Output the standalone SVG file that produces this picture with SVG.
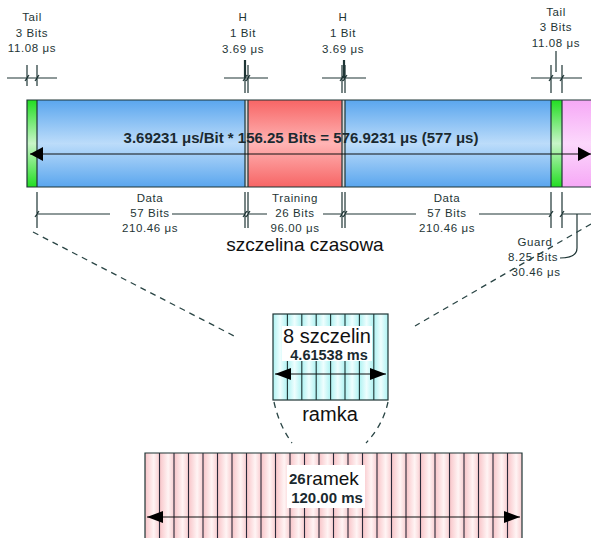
<svg xmlns="http://www.w3.org/2000/svg" width="591" height="538" viewBox="0 0 591 538">
<style>
.t{font-family:"Liberation Sans",Arial,sans-serif;font-size:11.5px;fill:#1e3535;text-anchor:middle;letter-spacing:0.6px}
.big{font-family:"Liberation Sans",Arial,sans-serif;fill:#111;text-anchor:middle}
.b{font-family:"Liberation Sans",Arial,sans-serif;font-weight:bold;fill:#1a2a30;text-anchor:middle}
.ln{stroke:#1e3535;stroke-width:1.2;fill:none}
.dash{stroke:#2a4545;stroke-width:1.3;stroke-dasharray:6,5;fill:none}
.col{stroke:#1e3535;stroke-width:1.1}
</style>
<defs>
<linearGradient id="gBlue" x1="0" y1="0" x2="0" y2="1">
<stop offset="0" stop-color="#5aa6ee"/><stop offset="0.5" stop-color="#bcdcfa"/><stop offset="1" stop-color="#5aa6ee"/>
</linearGradient>
<linearGradient id="gRed" x1="0" y1="0" x2="0" y2="1">
<stop offset="0" stop-color="#f76565"/><stop offset="0.5" stop-color="#ffb4b4"/><stop offset="1" stop-color="#f76565"/>
</linearGradient>
<linearGradient id="gGreen" x1="0" y1="0" x2="0" y2="1">
<stop offset="0" stop-color="#22dd22"/><stop offset="0.5" stop-color="#c8f5c8"/><stop offset="1" stop-color="#22dd22"/>
</linearGradient>
<linearGradient id="gPink" x1="0" y1="0" x2="0" y2="1">
<stop offset="0" stop-color="#f6a8f6"/><stop offset="0.5" stop-color="#fcd8fc"/><stop offset="1" stop-color="#f6a8f6"/>
</linearGradient>
<linearGradient id="gCyan" x1="0" y1="0" x2="1" y2="0">
<stop offset="0" stop-color="#aef2f2"/><stop offset="0.5" stop-color="#eefefe"/><stop offset="1" stop-color="#aef2f2"/>
</linearGradient>
<linearGradient id="gRose" x1="0" y1="0" x2="1" y2="0">
<stop offset="0" stop-color="#f8c4c8"/><stop offset="0.6" stop-color="#fff4f4"/><stop offset="1" stop-color="#f8cdd0"/>
</linearGradient>
</defs>

<g id="slot-bar">
<rect x="27" y="100" width="10" height="87" fill="url(#gGreen)"/>
<rect x="37" y="100" width="208" height="87" fill="url(#gBlue)"/>
<rect x="245" y="100" width="3" height="87" fill="#d8d8d8"/>
<rect x="248" y="100" width="94" height="87" fill="url(#gRed)"/>
<rect x="342" y="100" width="3" height="87" fill="#d8d8d8"/>
<rect x="345" y="100" width="206" height="87" fill="url(#gBlue)"/>
<rect x="551" y="100" width="11" height="87" fill="url(#gGreen)"/>
<rect x="562" y="100" width="30" height="87" fill="url(#gPink)"/>
<path d="M592,100 H27 V187 H592" class="ln" stroke-width="1.6"/>
<path d="M37,100 V187 M245,100 V187 M248,100 V187 M342,100 V187 M345,100 V187 M551,100 V187 M562,100 V187" class="ln"/>
<line x1="30" y1="154" x2="591" y2="154" stroke="#111" stroke-width="1.2"/>
<path d="M30,154 L43,147 L43,161 z M591,154 L578,147 L578,161 z" fill="#000"/>
<text x="301" y="143" class="b" font-size="15">3.69231 μs/Bit * 156.25 Bits = 576.9231  μs (577 μs)</text>
</g>

<g id="dim-tail-left">
<text class="t" x="32" y="21">Tail</text>
<text class="t" x="32" y="37">3 Bits</text>
<text class="t" x="32" y="52">11.08 μs</text>
<path d="M27,65 V86 M37,65 V86 M7,78 H57 M25,81 L29,75 M35,81 L39,75" class="ln"/>
</g>
<g id="dim-h1">
<text class="t" x="243" y="21">H</text>
<text class="t" x="243" y="37">1 Bit</text>
<text class="t" x="243" y="53">3.69 μs</text>
<path d="M245,65 V93 M248,65 V93 M224,78 H268 M243,81 L247,75 M246,81 L250,75" class="ln"/>
<line x1="245" y1="60" x2="245" y2="78" stroke="#1e3535" stroke-width="2.2"/>
</g>
<g id="dim-h2">
<text class="t" x="343" y="21">H</text>
<text class="t" x="343" y="37">1 Bit</text>
<text class="t" x="343" y="53">3.69 μs</text>
<path d="M342,65 V93 M345,65 V93 M322,78 H366 M340,81 L344,75 M343,81 L347,75" class="ln"/>
<line x1="344" y1="60" x2="344" y2="78" stroke="#1e3535" stroke-width="2.2"/>
</g>
<g id="dim-tail-right">
<text class="t" x="556" y="16">Tail</text>
<text class="t" x="556" y="31">3 Bits</text>
<text class="t" x="556" y="47">11.08 μs</text>
<path d="M551,65 V93 M562,65 V93 M531,78 H582 M556,51 V72 M549,81 L553,75 M560,81 L564,75" class="ln"/>
</g>

<g id="dim-data1">
<text class="t" x="150" y="202">Data</text>
<text class="t" x="150" y="217">57 Bits</text>
<text class="t" x="150" y="232">210.46 μs</text>
<path d="M37,192 V228 M245,192 V228 M248,192 V228 M37,214 H110 M172,214 H245 M35,217 L39,211 M243,217 L247,211 M246,217 L250,211" class="ln"/>
</g>
<g id="dim-training">
<text class="t" x="295" y="202">Training</text>
<text class="t" x="295" y="217">26 Bits</text>
<text class="t" x="295" y="232">96.00 μs</text>
<path d="M248,214 H267 M323,214 H342 M342,192 V228 M345,192 V228 M340,217 L344,211 M343,217 L347,211" class="ln"/>
</g>
<g id="dim-data2">
<text class="t" x="447" y="202">Data</text>
<text class="t" x="447" y="217">57 Bits</text>
<text class="t" x="447" y="232">210.46 μs</text>
<path d="M345,214 H416 M479,214 H551 M551,192 V228 M562,192 V228 M549,217 L553,211 M560,217 L564,211" class="ln"/>
</g>
<g id="dim-guard">
<text class="t" x="535" y="246">Guard</text>
<text class="t" x="533" y="261">8.25 Bits</text>
<text class="t" x="536" y="276">30.46 μs</text>
<path d="M562,214 H591 M577,214 V248 Q577,258 560,258" class="ln"/>
</g>

<g id="label-slot">
<text class="big" x="305" y="251" font-size="19">szczelina czasowa</text>
</g>

<g id="connectors">
<line x1="33" y1="232" x2="238" y2="338" class="dash"/>
<line x1="591" y1="224" x2="415" y2="326" class="dash"/>
<path d="M274,402 Q279,425 292,443" class="dash"/>
<path d="M388,402 Q383,425 366,443" class="dash"/>
</g>

<g id="frame">
<rect x="273" y="314" width="14.4" height="86" fill="url(#gCyan)"/>
<rect x="287.4" y="314" width="14.4" height="86" fill="url(#gCyan)"/>
<rect x="301.8" y="314" width="14.4" height="86" fill="url(#gCyan)"/>
<rect x="316.2" y="314" width="14.4" height="86" fill="url(#gCyan)"/>
<rect x="330.6" y="314" width="14.4" height="86" fill="url(#gCyan)"/>
<rect x="345" y="314" width="14.4" height="86" fill="url(#gCyan)"/>
<rect x="359.4" y="314" width="14.4" height="86" fill="url(#gCyan)"/>
<rect x="373.8" y="314" width="14.2" height="86" fill="url(#gCyan)"/>
<path d="M287.4,314 V400 M301.8,314 V400 M316.2,314 V400 M330.6,314 V400 M345,314 V400 M359.4,314 V400 M373.8,314 V400" class="col"/>
<rect x="273" y="314" width="115" height="86" class="ln" stroke-width="1.4"/>
<rect x="282" y="326" width="90" height="35" fill="#fff"/>
<text class="big" x="327" y="343" font-size="20">8 szczelin</text>
<text class="b" x="329" y="360" font-size="14.5">4.61538 ms</text>
<line x1="275" y1="374" x2="386" y2="374" stroke="#111" stroke-width="1.2"/>
<path d="M275,374 L291,368 L291,380 z M386,374 L370,368 L370,380 z" fill="#000"/>
<text class="big" x="330" y="421" font-size="20">ramka</text>
</g>

<g id="multiframe">
<g fill="url(#gRose)">
<rect x="145" y="453" width="14.5" height="90"/><rect x="159.5" y="453" width="14.5" height="90"/>
<rect x="174" y="453" width="14.5" height="90"/><rect x="188.5" y="453" width="14.5" height="90"/>
<rect x="203" y="453" width="14.5" height="90"/><rect x="217.5" y="453" width="14.5" height="90"/>
<rect x="232" y="453" width="14.5" height="90"/><rect x="246.5" y="453" width="14.5" height="90"/>
<rect x="261" y="453" width="14.5" height="90"/><rect x="275.5" y="453" width="14.5" height="90"/>
<rect x="290" y="453" width="14.5" height="90"/><rect x="304.5" y="453" width="14.5" height="90"/>
<rect x="319" y="453" width="14.5" height="90"/><rect x="333.5" y="453" width="14.5" height="90"/>
<rect x="348" y="453" width="14.5" height="90"/><rect x="362.5" y="453" width="14.5" height="90"/>
<rect x="377" y="453" width="14.5" height="90"/><rect x="391.5" y="453" width="14.5" height="90"/>
<rect x="406" y="453" width="14.5" height="90"/><rect x="420.5" y="453" width="14.5" height="90"/>
<rect x="435" y="453" width="14.5" height="90"/><rect x="449.5" y="453" width="14.5" height="90"/>
<rect x="464" y="453" width="14.5" height="90"/><rect x="478.5" y="453" width="14.5" height="90"/>
<rect x="493" y="453" width="14.5" height="90"/><rect x="507.5" y="453" width="14.5" height="90"/>
</g>
<path d="M159.5,453 V540 M174,453 V540 M188.5,453 V540 M203,453 V540 M217.5,453 V540 M232,453 V540 M246.5,453 V540 M261,453 V540 M275.5,453 V540 M290,453 V540 M304.5,453 V540 M319,453 V540 M333.5,453 V540 M348,453 V540 M362.5,453 V540 M377,453 V540 M391.5,453 V540 M406,453 V540 M420.5,453 V540 M435,453 V540 M449.5,453 V540 M464,453 V540 M478.5,453 V540 M493,453 V540 M507.5,453 V540" stroke="#2a2a3a" stroke-width="1.1"/>
<path d="M145,540 V453 H522 V540" class="ln" stroke-width="1.4"/>
<rect x="287" y="465" width="78" height="43" fill="#fff"/>
<text x="289" y="484" font-family="Liberation Sans,Arial,sans-serif" font-size="15" font-weight="bold" fill="#1a2a30">26</text>
<text x="306" y="485" font-family="Liberation Sans,Arial,sans-serif" font-size="19" fill="#111">ramek</text>
<text class="b" x="327" y="503" font-size="15">120.00 ms</text>
<line x1="147" y1="517" x2="520" y2="517" stroke="#111" stroke-width="1.2"/>
<path d="M147,517 L163,511 L163,523 z M520,517 L504,511 L504,523 z" fill="#000"/>
</g>
</svg>
